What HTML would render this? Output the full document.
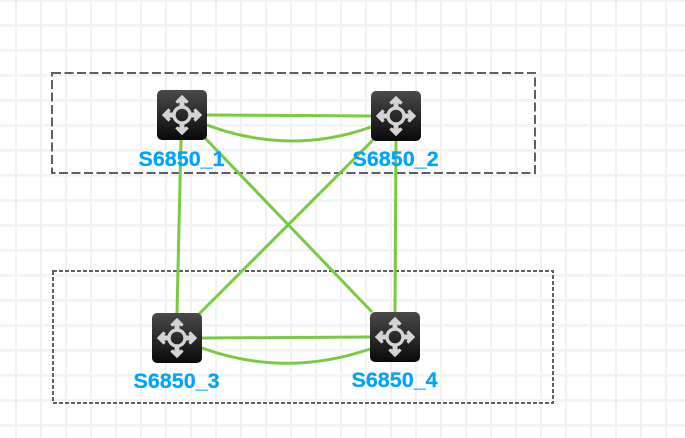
<!DOCTYPE html>
<html><head><meta charset="utf-8"><style>
html,body{margin:0;padding:0;background:#fff}
svg{display:block}
text{font-family:"Liberation Sans",sans-serif;font-weight:bold;font-size:21.5px;fill:#00a4ff;stroke:#00a4ff;stroke-width:.25px}
</style></head><body>
<svg width="685" height="438" viewBox="0 0 685 438" xmlns="http://www.w3.org/2000/svg">
<defs>
<pattern id="g" x="16" y="0" width="25" height="25" patternUnits="userSpaceOnUse">
<rect x="-1" y="0" width="2" height="25" fill="#f2f2f2"/>
<rect x="24" y="0" width="2" height="25" fill="#f2f2f2"/>
<rect x="0" y="0" width="25" height="1.600" fill="#f2f2f2"/>
<rect x="0" y="24.200" width="25" height="0.800" fill="#f2f2f2"/>
</pattern>
<linearGradient id="d" x1="0" y1="0" x2="0" y2="1">
<stop offset="0" stop-color="#4a4a4a"/><stop offset="1" stop-color="#0a0a0a"/>
</linearGradient>
<g id="a">
<path d="M25 5.500L31 11.500L29.500 13L27 11.500V18H23V11.500L20.500 13L19 11.500Z" fill="#d4d4d4" stroke="#d4d4d4" stroke-width="1" stroke-linejoin="round"/>
</g>
<g id="n">
<rect width="50" height="50" rx="5" fill="url(#d)"/>
<circle cx="25" cy="25" r="8" fill="none" stroke="#d4d4d4" stroke-width="3.400"/>
<use href="#a"/>
<use href="#a" transform="rotate(90 25 25)"/>
<use href="#a" transform="rotate(180 25 25)"/>
<use href="#a" transform="rotate(270 25 25)"/>
</g>
</defs>
<rect width="685" height="438" fill="url(#g)"/>
<g fill="none" stroke="#606060" stroke-width="2">
<rect x="52" y="73" width="483" height="100" stroke-dasharray="9 3.500"/>
<rect x="53" y="271" width="500" height="132" stroke-dasharray="4 2"/>
</g>
<g fill="none" stroke="#7ac943" stroke-width="3">
<path d="M207 115L371 116"/>
<path d="M207 125Q290 156 371 127"/>
<path d="M202 338L370 337"/>
<path d="M202 348Q285 378 370 349"/>
<path d="M181 140L177 313"/>
<path d="M396 141L395 312"/>
<path d="M205 138L372 312"/>
<path d="M373 140L199 314"/>
</g>
<use href="#n" x="157" y="90"/>
<use href="#n" x="371" y="91"/>
<use href="#n" x="152" y="313"/>
<use href="#n" x="370" y="312"/>
<text x="138.500" y="166">S6850_1</text>
<text x="352.500" y="166">S6850_2</text>
<text x="133.500" y="388">S6850_3</text>
<text x="351.500" y="387">S6850_4</text>
</svg>
</body></html>
